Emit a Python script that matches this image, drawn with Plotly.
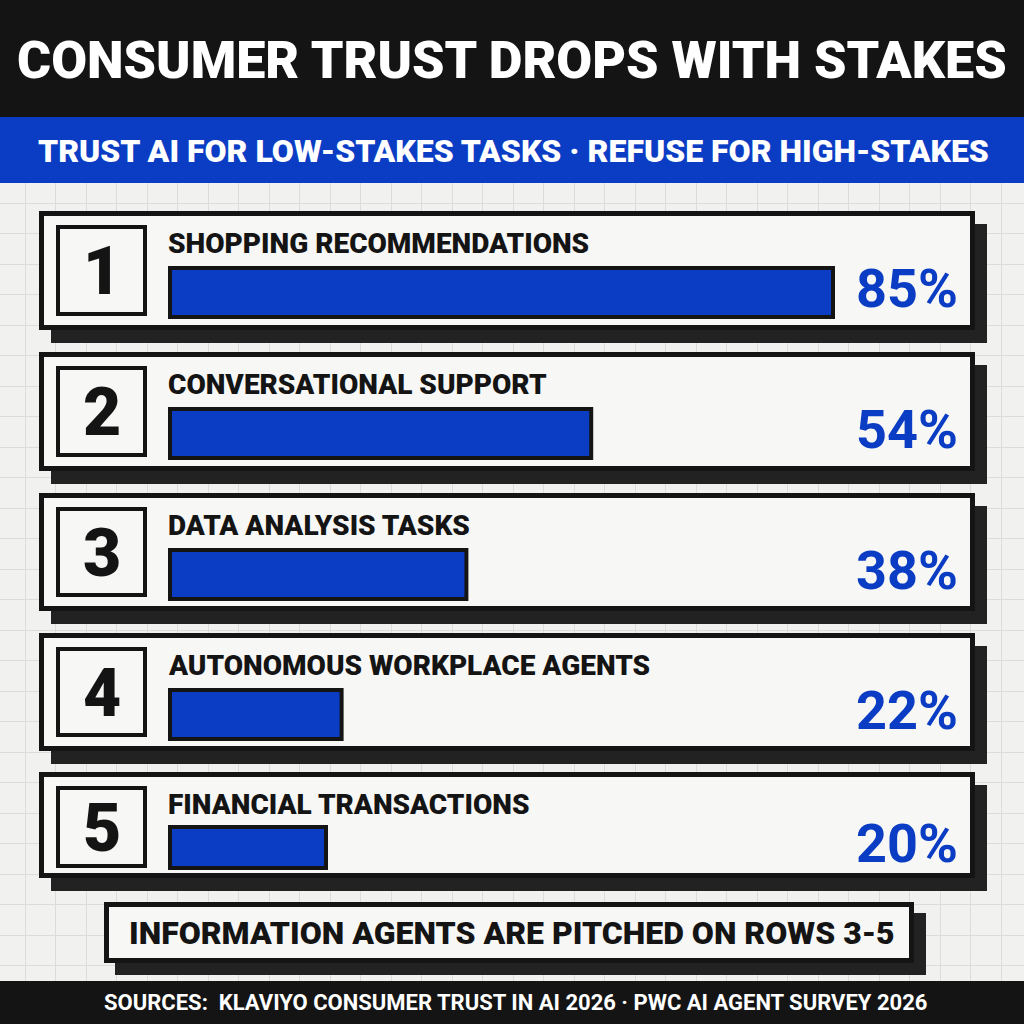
import plotly.graph_objects as go

# ---------------- data ----------------
TITLE = "CONSUMER TRUST DROPS WITH STAKES"
SUBTITLE = "TRUST AI FOR LOW-STAKES TASKS · REFUSE FOR HIGH-STAKES"
CATEGORIES = [
    "SHOPPING RECOMMENDATIONS",
    "CONVERSATIONAL SUPPORT",
    "DATA ANALYSIS TASKS",
    "AUTONOMOUS WORKPLACE AGENTS",
    "FINANCIAL TRANSACTIONS",
]
TRUST_PCT = [85, 54, 38, 22, 20]
RANKS = [1, 2, 3, 4, 5]
CALLOUT = "INFORMATION AGENTS ARE PITCHED ON ROWS 3-5"
FOOTER = "SOURCES:  KLAVIYO CONSUMER TRUST IN AI 2026 · PWC AI AGENT SURVEY 2026"

# ---------------- layout constants (pixels) ----------------
W = H = 1024
ROW_TOP = [211, 352, 493, 633, 772]
ROW_H = [119, 119, 118, 118, 106]
ROW_X0, ROW_X1 = 39, 975
SHADOW_DX, SHADOW_DY = 12, 13
BAR_X0_PX = 170
PX_PER_PCT = 7.8

BLUE = "#0b3dc4"
BLACK = "#141414"
SHADOW = "#222222"
PAGE = "#f1f1ef"
CARD = "#f7f7f5"
FONT = "Roboto, Liberation Sans, DejaVu Sans, sans-serif"

fig = go.Figure()

# bars: values through an overlaid percent axis
bar_y, bar_w = [], []
for top, h in zip(ROW_TOP, ROW_H):
    bh = 49 if h > 110 else 41
    btop = top + (57 if h > 110 else 55)
    bar_y.append(btop + bh / 2)
    bar_w.append(bh)

fig.add_trace(go.Bar(
    x=TRUST_PCT, y=bar_y, width=bar_w, orientation="h",
    xaxis="x2", yaxis="y",
    marker=dict(color=BLUE, line=dict(color=BLACK, width=4)),
    hoverinfo="skip", showlegend=False,
))

shapes = []
ann = []

def rect(x0, y0, x1, y1, fill, line_color=None, lw=0, layer="between"):
    shapes.append(dict(
        type="rect", xref="x", yref="y", x0=x0, y0=y0, x1=x1, y1=y1,
        fillcolor=fill, line=dict(color=line_color or fill, width=lw), layer=layer,
    ))

# header / subtitle / footer bands
rect(0, 0, W, 117, BLACK, layer="above")
rect(0, 117, W, 183, BLUE, layer="above")
rect(0, 981, W, H, BLACK, layer="above")

# row cards
for i, (top, h) in enumerate(zip(ROW_TOP, ROW_H)):
    bot = top + h
    rect(ROW_X0 + SHADOW_DX, top + SHADOW_DY, ROW_X1 + SHADOW_DX, bot + SHADOW_DY, SHADOW)
    rect(ROW_X0 + 2.5, top + 2.5, ROW_X1 - 2.5, bot - 2.5, CARD, BLACK, 5)
    inset_b = 14 if h > 110 else 10
    rect(58, top + 16, 145, bot - inset_b - 2, CARD, BLACK, 4)
    ann.append(dict(x=101.5, y=(top + 14 + bot - inset_b) / 2 + 1, text=str(RANKS[i]),
                    font=dict(family=FONT, size=66, color=BLACK, weight=900),
                    xanchor="center", yanchor="middle", showarrow=False))
    ann.append(dict(x=166, y=top + 32, text=CATEGORIES[i],
                    font=dict(family=FONT, size=28, color=BLACK, weight=900),
                    xanchor="left", yanchor="middle", showarrow=False))
    ann.append(dict(x=960, y=bar_y[i] - 4, text=f"{TRUST_PCT[i]}%",
                    font=dict(family=FONT, size=54, color=BLUE, weight=700),
                    xanchor="right", yanchor="middle", showarrow=False))

# callout
rect(104 + 11, 902 + 11, 914 + 12, 963 + 12, SHADOW)
rect(106.5, 904.5, 911.5, 960.5, CARD, BLACK, 5)
ann.append(dict(x=512, y=933, text=CALLOUT,
                font=dict(family=FONT, size=32, color=BLACK, weight=900),
                xanchor="center", yanchor="middle", showarrow=False))

# titles
ann.append(dict(x=512, y=60, text=TITLE,
                font=dict(family=FONT, size=52, color="white", weight=900),
                xanchor="center", yanchor="middle", showarrow=False))
ann.append(dict(x=513, y=151, text=SUBTITLE,
                font=dict(family=FONT, size=32, color="white", weight=900),
                xanchor="center", yanchor="middle", showarrow=False))
ann.append(dict(x=515, y=1002, text=FOOTER,
                font=dict(family=FONT, size=22, color="white", weight=700),
                xanchor="center", yanchor="middle", showarrow=False))

x2_lo = -BAR_X0_PX / PX_PER_PCT
x2_hi = (W - BAR_X0_PX) / PX_PER_PCT

fig.update_layout(
    width=W, height=H,
    margin=dict(l=0, r=0, t=0, b=0),
    paper_bgcolor=PAGE, plot_bgcolor=PAGE,
    xaxis=dict(range=[0, W], showgrid=True, gridcolor="#dcdcda", gridwidth=1,
               tick0=25, dtick=30.5, showticklabels=False, zeroline=False,
               ticks="", fixedrange=True),
    yaxis=dict(range=[H, 0], showgrid=True, gridcolor="#dcdcda", gridwidth=1,
               tick0=20, dtick=30.5, showticklabels=False, zeroline=False,
               ticks="", fixedrange=True),
    xaxis2=dict(range=[x2_lo, x2_hi], overlaying="x", visible=False, fixedrange=True),
    shapes=shapes,
    annotations=ann,
    bargap=0,
)

fig.write_html(
    "out.html",
    config={"displayModeBar": False, "staticPlot": True},
    post_script="document.body.style.margin='0';document.body.style.overflow='hidden';",
)
